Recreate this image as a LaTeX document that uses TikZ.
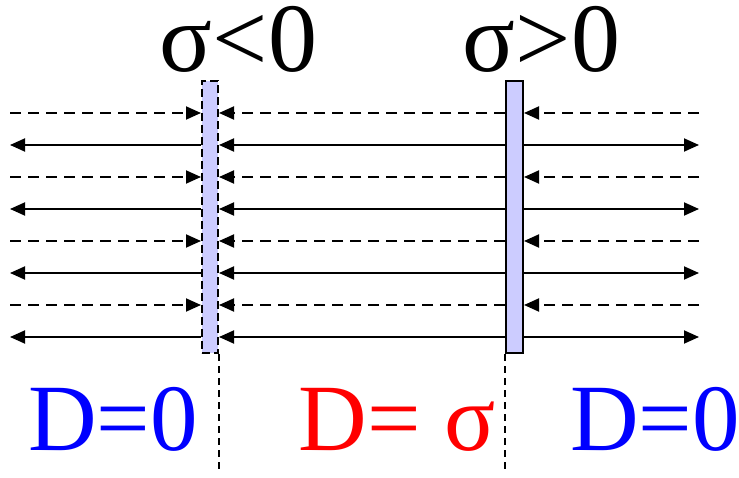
\documentclass[tikz,border=0pt]{standalone}
\usepackage{fontspec}
\setmainfont{Liberation Serif}
\usetikzlibrary{arrows.meta}
\definecolor{platefill}{RGB}{204,204,255}
\definecolor{dred}{RGB}{255,0,0}
\definecolor{dblue}{RGB}{0,0,255}

\begin{document}
\begin{tikzpicture}[
  x=1pt, y=-1pt,
  plate/.style={draw, line width=2pt, fill=platefill, minimum width=16pt,
    minimum height=272pt, inner sep=0pt},
  field/.style={line width=1.9pt, -{Triangle[length=15pt,width=13pt]}},
  dfield/.style={field, dash pattern=on 11pt off 7pt},
  guide/.style={line width=1.8pt, dash pattern=on 7pt off 5pt},
  lbl/.style={anchor=base, inner sep=0pt, text height=60pt, text depth=0pt,
    font=\fontsize{98}{98}\selectfont},
  dlbl/.style={anchor=base, inner sep=0pt, text height=64pt, text depth=2pt,
    font=\fontsize{95}{95}\selectfont}
]
\useasboundingbox (0,0) rectangle (739,478);

% charged sheets
\node[plate, dash pattern=on 8pt off 4pt] (plateL) at (210,217) {};
\node[plate, minimum width=17pt] (plateR) at (514.5,217) {};

\node[lbl] (sigL) at (238.5,72) {σ<0};
\node[lbl] (sigR) at (541.5,72) {σ>0};

% field lines
\foreach \y [count=\i] in {113,145,177,209,241,273,305,337} {
  \coordinate (l\i) at (10,\y);
  \coordinate (r\i) at (699,\y);
  \ifodd\i
    \draw[dfield] (l\i) -- (plateL.west |- l\i);
    \draw[dfield] (plateR.west |- l\i) -- (plateL.east |- l\i);
    \draw[dfield] (r\i) -- (plateR.east |- r\i);
  \else
    \draw[field] (plateL.west |- l\i) -- (l\i);
    \draw[field] (plateR.west |- l\i) -- (plateL.east |- l\i);
    \draw[field] (plateR.east |- r\i) -- (r\i);
  \fi
}

% region borders
\coordinate (bot) at (0,471);
\draw[guide] (plateL.south east) -- (plateL.south east |- bot);
\draw[guide] (plateR.south west) -- (plateR.south west |- bot);

\node[dlbl, text=dblue] (dL) at (113,450) {D=0};
\node[dlbl, text=dred] (dM) at (397,450) {D= σ};
\node[dlbl, text=dblue] (dR) at (655,450) {D=0};
\end{tikzpicture}
\end{document}
